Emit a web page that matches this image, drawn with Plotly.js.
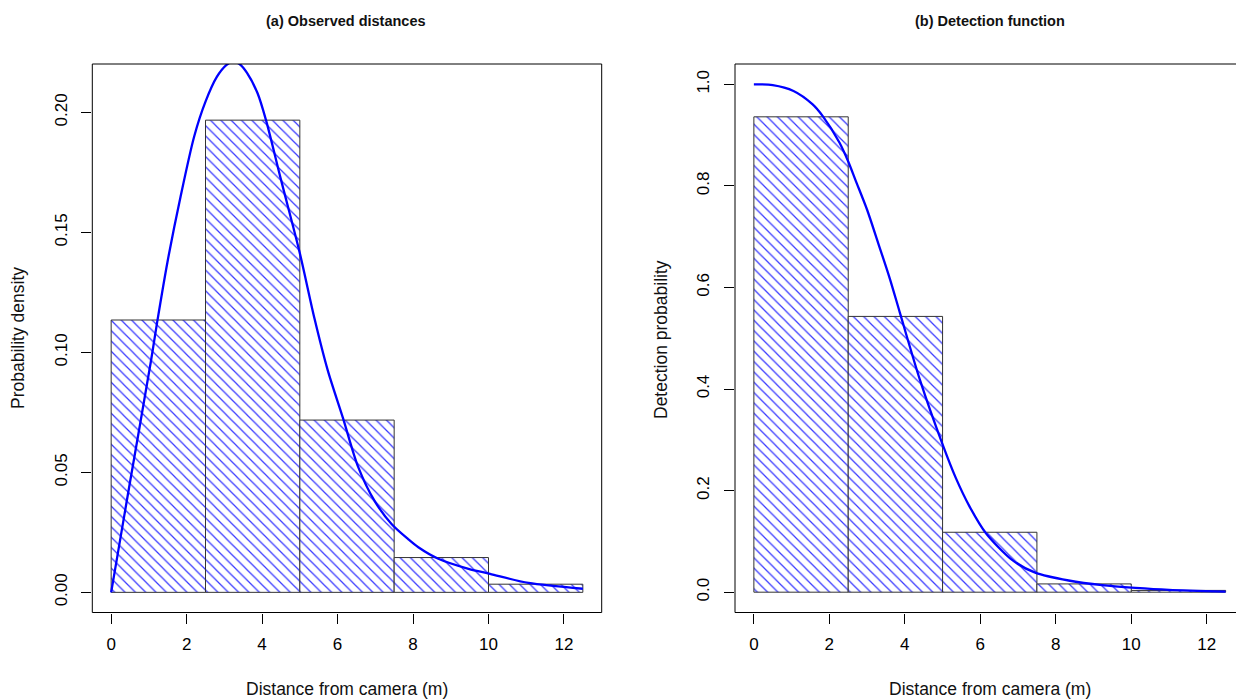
<!DOCTYPE html>
<html>
<head>
<meta charset="utf-8">
<script src="https://cdn.plot.ly/plotly-3.0.1.min.js"></script>
<style>
  html, body { margin: 0; padding: 0; background: #fff; overflow: hidden; }
  #chart { width: 1236px; height: 700px; }
</style>
</head>
<body>
<div id="chart"></div>
<script>
// ---- data ----
const binMids = [1.25, 3.75, 6.25, 8.75, 11.25];
const binWidth = 2.5;

// (a) histogram of observed distances (probability density)
const densityBars = [0.1135, 0.1968, 0.0718, 0.0145, 0.0034];
// fitted pdf curve
const pdfX = [0, 0.25, 0.5, 1.05, 1.22, 1.49, 1.84, 2.2, 2.5, 2.8, 3.05, 3.22, 3.4, 3.6, 3.88, 4.1, 4.5, 4.99, 5.39, 5.74, 6.14, 6.54, 6.98, 7.43, 7.87, 8.14, 8.67, 9.47, 10.04, 11.06, 12.5];
const pdfY = [0, 0.023, 0.046, 0.096, 0.1127, 0.1375, 0.165, 0.19, 0.2045, 0.2148, 0.2197, 0.2212, 0.2202, 0.2165, 0.208, 0.197, 0.172, 0.142, 0.114, 0.0925, 0.0728, 0.0525, 0.0381, 0.0285, 0.0222, 0.0188, 0.014, 0.0098, 0.0077, 0.0039, 0.0015];

// (b) scaled histogram (detection probability)
const detectBars = [0.936, 0.543, 0.118, 0.0163, 0.0035];
// fitted detection function
const gX = [0, 0.5, 1.05, 1.55, 1.83, 2.27, 2.5, 2.7, 3.0, 3.3, 3.6, 3.87, 4.4, 5.02, 5.35, 5.72, 6.15, 6.85, 7.47, 8.34, 9.23, 10.11, 11.0, 12.5];
const gY = [1.0, 0.9985, 0.987, 0.961, 0.937, 0.885, 0.848, 0.81, 0.753, 0.686, 0.618, 0.55, 0.418, 0.287, 0.225, 0.168, 0.116, 0.063, 0.038, 0.023, 0.0137, 0.0084, 0.0045, 0.001];

const xTicks = [0, 2, 4, 6, 8, 10, 12];
const yTicksA = [0, 0.05, 0.10, 0.15, 0.20];
const yTickTextA = ['0.00', '0.05', '0.10', '0.15', '0.20'];
const yTicksB = [0, 0.2, 0.4, 0.6, 0.8, 1.0];
const yTickTextB = ['0.0', '0.2', '0.4', '0.6', '0.8', '1.0'];

const titleA = '(a) Observed distances';
const titleB = '(b) Detection function';
const xTitle = 'Distance from camera (m)';
const yTitleA = 'Probability density';
const yTitleB = 'Detection probability';

// ---- styling ----
const FONT = 'Liberation Sans, Arial, sans-serif';
const hatch = {
  shape: '\\', fgcolor: '#0000ff', fgopacity: 0.78, bgcolor: '#ffffff',
  size: 7.3, solidity: 0.17
};
function barTrace(y, xa, ya) {
  return {
    type: 'bar', x: binMids, y: y, width: binWidth, xaxis: xa, yaxis: ya,
    marker: { color: '#0000ff', pattern: hatch, line: { color: '#333333', width: 1 } },
    hoverinfo: 'x+y', showlegend: false
  };
}
function curveTrace(x, y, xa, ya) {
  return {
    type: 'scatter', mode: 'lines', x: x, y: y, xaxis: xa, yaxis: ya,
    line: { color: '#0000ff', width: 2.3, shape: 'spline', smoothing: 0.8 },
    showlegend: false
  };
}

const traces = [
  barTrace(densityBars, 'x', 'y'),
  curveTrace(pdfX, pdfY, 'x', 'y'),
  barTrace(detectBars, 'x2', 'y2'),
  curveTrace(gX, gY, 'x2', 'y2')
];

const W = 1236, H = 700;
const yDom = [(H - 612.5) / H, (H - 64) / H];
const axisCommon = {
  showgrid: false, zeroline: false, showline: false,
  ticks: 'outside', ticklen: 10, tickwidth: 1, tickcolor: '#000',
  tickfont: { family: FONT, size: 17, color: '#000' }
};

const layout = {
  width: W, height: H,
  margin: { l: 0, r: 0, t: 0, b: 0 },
  paper_bgcolor: '#fff', plot_bgcolor: '#fff',
  bargap: 0,
  font: { family: FONT, color: '#000' },
  xaxis: Object.assign({}, axisCommon, {
    domain: [92.3 / W, 601.7 / W], range: [-0.5, 13],
    tickvals: xTicks, anchor: 'y', ticklabelstandoff: 6
  }),
  yaxis: Object.assign({}, axisCommon, {
    domain: yDom, range: [-0.0084, 0.2202],
    tickvals: yTicksA, ticktext: yTickTextA, tickangle: -90, anchor: 'x', ticklabelstandoff: 8
  }),
  xaxis2: Object.assign({}, axisCommon, {
    domain: [735 / W, 1], range: [-0.5, -0.5 + 501 / 37.74],
    tickvals: xTicks, anchor: 'y2', ticklabelstandoff: 6
  }),
  yaxis2: Object.assign({}, axisCommon, {
    domain: yDom, range: [-0.04, 1.04],
    tickvals: yTicksB, ticktext: yTickTextB, tickangle: -90, anchor: 'x2', ticklabelstandoff: 8
  }),
  shapes: [
    { type: 'rect', xref: 'x domain', yref: 'y domain', x0: 0, x1: 1, y0: 0, y1: 1,
      line: { color: '#000', width: 1 }, fillcolor: 'rgba(0,0,0,0)' },
    { type: 'rect', xref: 'x2 domain', yref: 'y2 domain', x0: 0, x1: 1.05, y0: 0, y1: 1,
      line: { color: '#000', width: 1 }, fillcolor: 'rgba(0,0,0,0)' }
  ],
  annotations: [
    { text: '<b>' + titleA + '</b>', xref: 'paper', yref: 'paper', x: 345.5 / W, y: (H - 21) / H,
      xanchor: 'center', yanchor: 'middle', showarrow: false, font: { family: FONT, size: 14.5, color: '#111' } },
    { text: '<b>' + titleB + '</b>', xref: 'paper', yref: 'paper', x: 990 / W, y: (H - 21) / H,
      xanchor: 'center', yanchor: 'middle', showarrow: false, font: { family: FONT, size: 14.5, color: '#111' } },
    { text: xTitle, xref: 'paper', yref: 'paper', x: 346.5 / W, y: (H - 689) / H,
      xanchor: 'center', yanchor: 'middle', showarrow: false, font: { family: FONT, size: 17.5, color: '#111' } },
    { text: xTitle, xref: 'paper', yref: 'paper', x: 990 / W, y: (H - 689) / H,
      xanchor: 'center', yanchor: 'middle', showarrow: false, font: { family: FONT, size: 17.5, color: '#111' } },
    { text: yTitleA, xref: 'paper', yref: 'paper', x: 18 / W, y: (H - 338) / H, textangle: -90,
      xanchor: 'center', yanchor: 'middle', showarrow: false, font: { family: FONT, size: 17.5, color: '#111' } },
    { text: yTitleB, xref: 'paper', yref: 'paper', x: 661 / W, y: (H - 339) / H, textangle: -90,
      xanchor: 'center', yanchor: 'middle', showarrow: false, font: { family: FONT, size: 17.5, color: '#111' } }
  ]
};

Plotly.newPlot('chart', traces, layout, { displayModeBar: false, staticPlot: true });
</script>
</body>
</html>
